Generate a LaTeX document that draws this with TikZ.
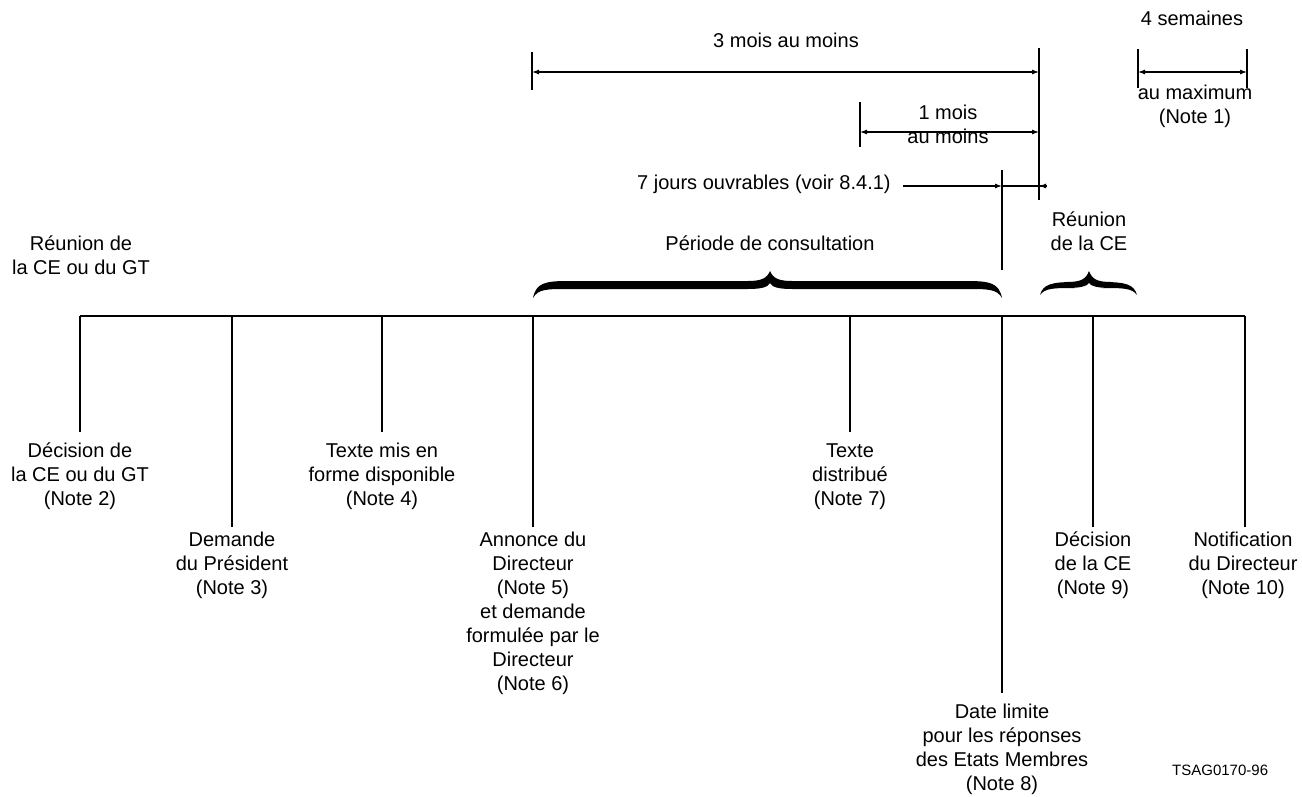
\documentclass[tikz,border=0pt]{standalone}
\usepackage{fontspec}
\setmainfont{Liberation Sans}
\usetikzlibrary{arrows.meta}
\newcommand\fstrut{\rule{0pt}{14.5pt}}
\newcommand\mybrace[8]{% xL xm xR ytip ytop yend th notch
  \fill (#1,#6) .. controls ({#1+3},{#5+2}) and ({#1+12},#5) .. ({#1+35},#5)
  -- ({#2-22},#5) .. controls ({#2-8},#5) and ({#2-3},{#5-3}) .. (#2,#4)
  .. controls ({#2+3},{#5-3}) and ({#2+8},#5) .. ({#2+22},#5)
  -- ({#3-35},#5) .. controls ({#3-12},#5) and ({#3-3},{#5+2}) .. (#3,#6)
  .. controls ({#3-5},{#5+#7}) and ({#3-14},{#5+#7}) .. ({#3-35},{#5+#7})
  -- ({#2+22},{#5+#7}) .. controls ({#2+8},{#5+#7}) and ({#2+2},{#5+#7-2}) .. (#2,{#5+#8})
  .. controls ({#2-2},{#5+#7-2}) and ({#2-8},{#5+#7}) .. ({#2-22},{#5+#7})
  -- ({#1+35},{#5+#7}) .. controls ({#1+14},{#5+#7}) and ({#1+5},{#5+#7}) .. (#1,#6) -- cycle;}
\begin{document}
\begin{tikzpicture}[x=1pt,y=-1pt,
  lbl/.style={inner sep=0pt,align=center,anchor=north,font=\fontsize{20}{24}\selectfont},
  tick/.style={line width=1.3pt},
  tline/.style={line width=1.8pt},
  dim/.style={line width=1.1pt,{Latex[length=7pt,width=5pt]}-{Latex[length=7pt,width=5pt]}},
  dimr/.style={line width=1.1pt,-{Latex[length=7pt,width=5pt]}}]
\useasboundingbox (0,0) rectangle (1302,796);
\fill[white] (0,0) rectangle (1302,796);

% timeline
\coordinate (tl0) at (80,316);
\coordinate (tl1) at (1245,316);
\draw[tline] (tl0) -- (tl1);

% bottom labels
\node[lbl] (n2) at (80,443) {\fstrut D\'ecision de\\la CE ou du GT\\(Note 2)};
\node[lbl] (n3) at (232,532) {\fstrut Demande\\du Pr\'esident\\(Note 3)};
\node[lbl] (n4) at (382,443) {\fstrut Texte mis en\\forme disponible\\(Note 4)};
\node[lbl] (n5) at (533,532) {\fstrut Annonce du\\Directeur\\(Note 5)\\et demande\\formul\'ee par le\\Directeur\\(Note 6)};
\node[lbl] (n7) at (850,443) {\fstrut Texte\\distribu\'e\\(Note 7)};
\node[lbl] (n8) at (1002,704) {\fstrut Date limite\\pour les r\'eponses\\des Etats Membres\\(Note 8)};
\node[lbl] (n9) at (1093,532) {\fstrut D\'ecision\\de la CE\\(Note 9)};
\node[lbl] (n10) at (1243,532) {\fstrut Notification\\du Directeur\\(Note 10)};
\node[inner sep=0pt,anchor=base west,font=\fontsize{15}{18}\selectfont] (ref) at (1172,775) {TSAG0170-96};

% ticks
\coordinate (b2) at (80,432);
\coordinate (b3) at (232,527);
\coordinate (b4) at (382,432);
\coordinate (b5) at (533,527);
\coordinate (b7) at (850,432);
\coordinate (b8) at (1002,693);
\coordinate (b9) at (1093,527);
\coordinate (b10) at (1245,527);
\draw[tick] (tl0) -- (b2);
\draw[tick] (232,316) -- (b3);
\draw[tick] (382,316) -- (b4);
\draw[tick] (533,316) -- (b5);
\draw[tick] (850,316) -- (b7);
\draw[tick] (1002,316) -- (b8);
\draw[tick] (1093,316) -- (b9);
\draw[tick] (tl1) -- (b10);

% top labels
\node[lbl] (r1) at (81,236) {\fstrut R\'eunion de\\la CE ou du GT};
\node[lbl] (pc) at (770,236) {\fstrut P\'eriode de consultation};
\node[lbl] (r2) at (1089,212) {\fstrut R\'eunion\\de la CE};

% braces
\mybrace{533}{770}{1002}{271}{281}{298}{8}{2}
\mybrace{1040}{1089}{1137}{271}{282}{295}{6}{1}

% 3 mois au moins
\node[lbl] (m3) at (786,33) {\fstrut 3 mois au moins};
\coordinate (m3L) at (532,72);
\coordinate (m3R) at (1039,72);
\draw[tick] (532,52) -- (532,90);
\draw[tick] (1039,48) -- (1039,200);
\draw[dim] (m3L) -- (m3R);

% 1 mois au moins
\node[lbl] (m1) at (948,105) {\fstrut 1 mois\\au moins};
\coordinate (m1L) at (860,132);
\coordinate (m1R) at (1039,132);
\draw[tick] (860,102) -- (860,147);
\draw[dim] (m1L) -- (m1R);

% 7 jours
\node[inner sep=0pt,anchor=base west,font=\fontsize{20}{24}\selectfont] (j7) at (637,189) {7 jours ouvrables (voir 8.4.1)};
\coordinate (j7a) at (1002,186);
\coordinate (j7e) at (1047,186);
\coordinate (j7b) at (1039,186);
\draw[tick] (1002,170) -- (1002,270);
\draw[dimr] (j7.east |- j7a) ++(12,0) -- (j7a);
\draw[line width=1.1pt] (j7a) -- (j7e);
\draw[dimr] (j7e) -- (j7b);

% 4 semaines
\node[lbl] (s4) at (1192,11) {\fstrut 4 semaines};
\node[lbl] (s4b) at (1195,85) {\fstrut au maximum\\(Note 1)};
\coordinate (s4L) at (1138,72);
\coordinate (s4R) at (1247,72);
\draw[tick] (1138,49) -- (1138,88);
\draw[tick] (1247,49) -- (1247,88);
\draw[dim] (s4L) -- (s4R);
\end{tikzpicture}
\end{document}
